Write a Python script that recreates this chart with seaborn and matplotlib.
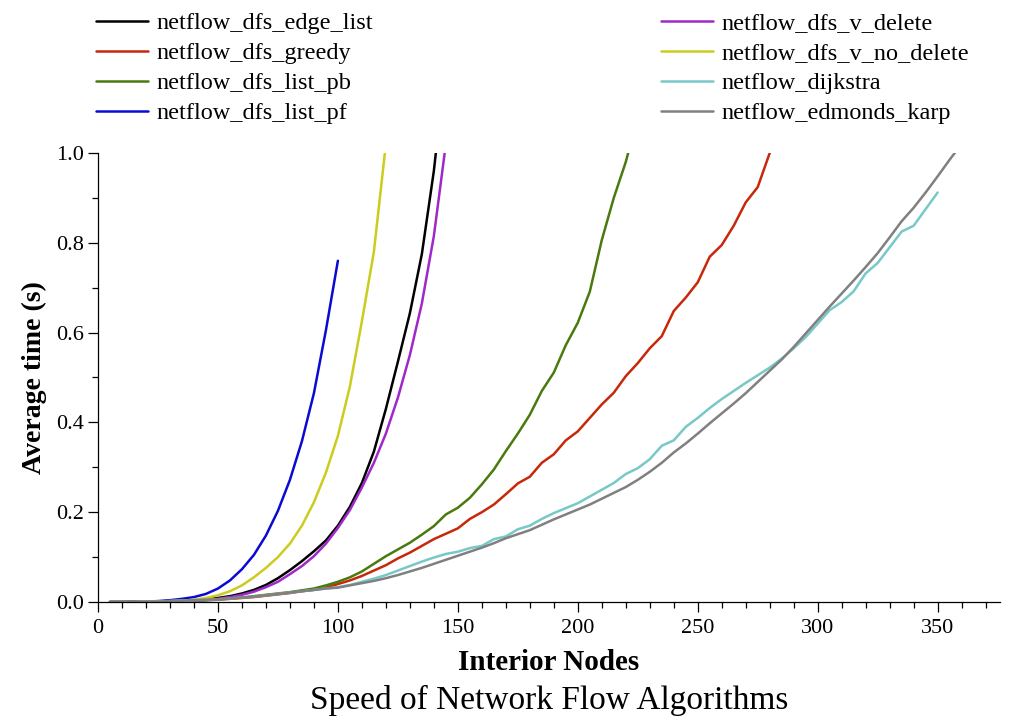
import numpy as np
import pandas as pd
import matplotlib
matplotlib.use("Agg")
import matplotlib.pyplot as plt
from matplotlib.ticker import MultipleLocator
import seaborn as sns

# ---------------- data ----------------
nodes = list(range(5, 365, 5))

dfs_edge_list = [0, 0, 0, 0.001, 0.001, 0.002, 0.003, 0.004, 0.006, 0.009, 0.013, 0.019,
                 0.027, 0.038, 0.053, 0.071, 0.091, 0.113, 0.137, 0.17, 0.212, 0.265,
                 0.335, 0.43, 0.535, 0.643, 0.775, 0.96, 1.2]
dfs_greedy = [0, 0, 0, 0.001, 0.001, 0.001, 0.002, 0.003, 0.004, 0.005, 0.007, 0.009,
              0.011, 0.014, 0.017, 0.02, 0.024, 0.027, 0.032, 0.04, 0.048, 0.058, 0.07,
              0.082, 0.097, 0.11, 0.125, 0.14, 0.152, 0.164, 0.185, 0.2, 0.217, 0.24,
              0.264, 0.279, 0.31, 0.329, 0.36, 0.38, 0.41, 0.44, 0.466, 0.503, 0.532,
              0.565, 0.592, 0.648, 0.678, 0.712, 0.769, 0.795, 0.838, 0.89, 0.924, 1.0, 1.08]
dfs_list_pb = [0, 0, 0, 0.001, 0.001, 0.001, 0.002, 0.003, 0.004, 0.006, 0.008, 0.01,
               0.013, 0.016, 0.019, 0.022, 0.026, 0.03, 0.037, 0.045, 0.055, 0.068, 0.085,
               0.102, 0.117, 0.132, 0.15, 0.169, 0.195, 0.21, 0.232, 0.262, 0.295, 0.336,
               0.375, 0.417, 0.47, 0.511, 0.572, 0.622, 0.691, 0.806, 0.9, 0.98, 1.08]
dfs_list_pf = [0, 0, 0.001, 0.001, 0.002, 0.004, 0.007, 0.011, 0.018, 0.03, 0.048, 0.073,
               0.105, 0.148, 0.203, 0.272, 0.358, 0.465, 0.605, 0.76]
dfs_v_delete = [0, 0, 0, 0.001, 0.001, 0.001, 0.002, 0.003, 0.005, 0.007, 0.011, 0.016,
                0.023, 0.033, 0.045, 0.062, 0.08, 0.102, 0.13, 0.165, 0.205, 0.255, 0.31,
                0.375, 0.455, 0.55, 0.665, 0.815, 1.02]
dfs_v_no_delete = [0, 0, 0, 0.001, 0.001, 0.002, 0.003, 0.005, 0.009, 0.015, 0.024, 0.037,
                   0.055, 0.076, 0.1, 0.13, 0.17, 0.222, 0.288, 0.37, 0.48, 0.625, 0.78, 1.02]
dijkstra = [0, 0, 0, 0.001, 0.001, 0.002, 0.003, 0.004, 0.005, 0.006, 0.008, 0.01, 0.012,
            0.015, 0.018, 0.021, 0.024, 0.027, 0.03, 0.033, 0.038, 0.045, 0.052, 0.06,
            0.07, 0.08, 0.09, 0.099, 0.107, 0.112, 0.12, 0.125, 0.14, 0.146, 0.162, 0.17,
            0.185, 0.198, 0.209, 0.22, 0.235, 0.25, 0.265, 0.285, 0.298, 0.318, 0.348,
            0.36, 0.39, 0.41, 0.432, 0.452, 0.47, 0.488, 0.505, 0.522, 0.542, 0.565, 0.59,
            0.62, 0.65, 0.668, 0.692, 0.732, 0.755, 0.79, 0.825, 0.838, 0.875, 0.912]
edmonds_karp = [0, 0, 0, 0.001, 0.001, 0.002, 0.003, 0.004, 0.005, 0.006, 0.008, 0.01,
                0.012, 0.015, 0.018, 0.021, 0.024, 0.027, 0.03, 0.032, 0.037, 0.042, 0.047,
                0.053, 0.06, 0.068, 0.076, 0.085, 0.094, 0.103, 0.112, 0.121, 0.131, 0.142,
                0.151, 0.16, 0.172, 0.184, 0.195, 0.206, 0.217, 0.23, 0.243, 0.256, 0.272,
                0.29, 0.31, 0.333, 0.353, 0.375, 0.398, 0.42, 0.442, 0.465, 0.49, 0.515,
                0.54, 0.568, 0.598, 0.628, 0.658, 0.687, 0.716, 0.746, 0.777, 0.812, 0.848,
                0.878, 0.912, 0.948, 0.985, 1.02]

series = {
    "netflow_dfs_edge_list": dfs_edge_list,
    "netflow_dfs_greedy": dfs_greedy,
    "netflow_dfs_list_pb": dfs_list_pb,
    "netflow_dfs_list_pf": dfs_list_pf,
    "netflow_dfs_v_delete": dfs_v_delete,
    "netflow_dfs_v_no_delete": dfs_v_no_delete,
    "netflow_dijkstra": dijkstra,
    "netflow_edmonds_karp": edmonds_karp,
}
colors = ["#000000", "#c8280a", "#4a7a0e", "#0a0ad2",
          "#a028c8", "#cccc1e", "#78c8c8", "#808080"]

rows = []
for name, vals in series.items():
    for xv, yv in zip(nodes, vals):
        rows.append((name, xv, yv))
df = pd.DataFrame(rows, columns=["algorithm", "nodes", "time"])
order = list(series.keys())
palette = dict(zip(order, colors))

# ---------------- plot ----------------
sns.set_theme(style="ticks")
plt.rcParams["font.family"] = ["Liberation Serif", "DejaVu Serif"]
for key in ["text.color", "axes.labelcolor", "xtick.color", "ytick.color", "axes.edgecolor"]:
    plt.rcParams[key] = "black"

fig = plt.figure(figsize=(10.10, 7.26), dpi=100)
ax = fig.add_axes([98/1010, 1 - 602/726, (1000-98)/1010, (602-153)/726])

sns.lineplot(data=df, x="nodes", y="time", hue="algorithm", hue_order=order,
             palette=palette, estimator=None, sort=True, linewidth=1.8, ax=ax)

handles, labels = ax.get_legend_handles_labels()
ax.get_legend().remove()

ax.set_xlim(0, 376)
ax.set_ylim(0, 1.0)
ax.xaxis.set_major_locator(MultipleLocator(50))
ax.xaxis.set_minor_locator(MultipleLocator(10))
ax.yaxis.set_major_locator(MultipleLocator(0.2))
ax.yaxis.set_minor_locator(MultipleLocator(0.1))
ax.yaxis.set_major_formatter(matplotlib.ticker.FormatStrFormatter("%.1f"))
ax.tick_params(axis="both", which="major", direction="out", length=7, width=0.9,
               labelsize=16, colors="black")
ax.tick_params(axis="x", which="major", pad=5)
ax.tick_params(axis="y", which="major", pad=3)
ax.tick_params(axis="both", which="minor", direction="out", length=4, width=0.9, colors="black")
for s in ["top", "right"]:
    ax.spines[s].set_visible(False)
for s in ["left", "bottom"]:
    ax.spines[s].set_linewidth(0.9)
    ax.spines[s].set_color("black")

ax.set_xlabel("Interior Nodes", fontsize=21, fontweight="bold", labelpad=8, color="black")
ax.set_ylabel("Average time (s)", fontsize=20, fontweight="bold", labelpad=7, color="black")

fig.text(549/1010, 1 - 700/726, "Speed of Network Flow Algorithms",
         ha="center", va="center", fontsize=24, color="black")

for h in handles:
    h.set_linewidth(1.8)

leg_kw = dict(frameon=False, fontsize=17.5, handlelength=2.15, handletextpad=0.33,
              labelspacing=0.33, borderpad=0, borderaxespad=0, loc="upper left",
              labelcolor="black")
leg1 = fig.legend(handles[:4], labels[:4], bbox_to_anchor=(96/1010, 1 - 12/726), **leg_kw)
leg2 = fig.legend(handles[4:], labels[4:], bbox_to_anchor=(661/1010, 1 - 12/726), **leg_kw)

fig.savefig("out.png", dpi=100)
